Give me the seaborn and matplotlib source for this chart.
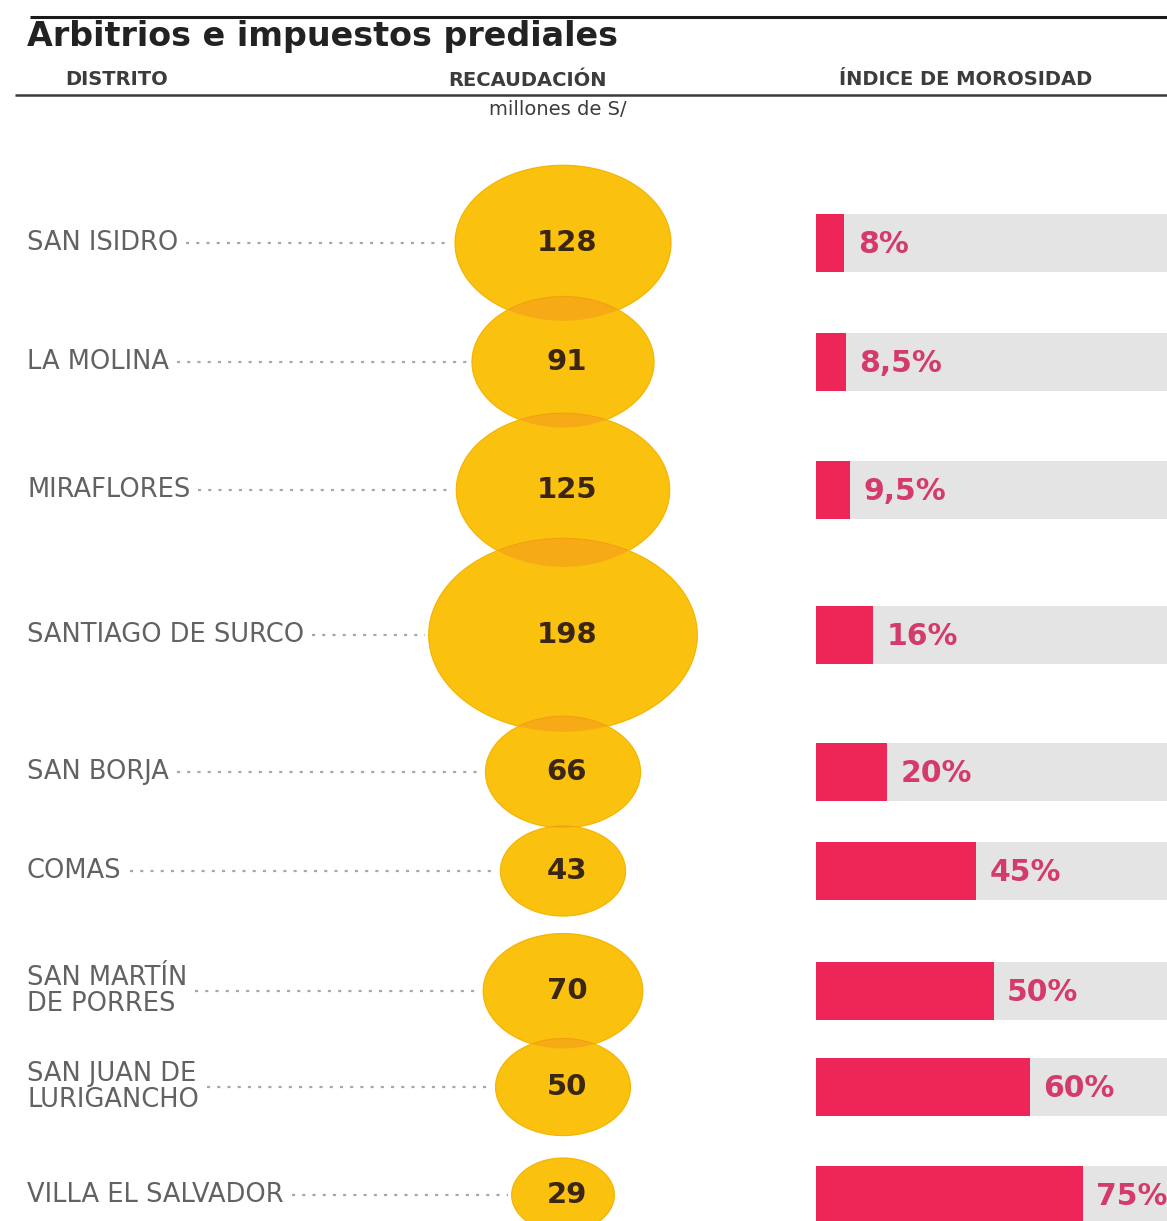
import numpy as np
import pandas as pd
import matplotlib
matplotlib.use("Agg")
import matplotlib.pyplot as plt
from matplotlib.path import Path
import seaborn as sns

# ---- data -------------------------------------------------------------
distritos = [
    "SAN ISIDRO",
    "LA MOLINA",
    "MIRAFLORES",
    "SANTIAGO DE SURCO",
    "SAN BORJA",
    "COMAS",
    "SAN MARTÍN\nDE PORRES",
    "SAN JUAN DE\nLURIGANCHO",
    "VILLA EL SALVADOR",
]
recaudacion = [128, 91, 125, 198, 66, 43, 70, 50, 29]        # millones de S/
morosidad = [8, 8.5, 9.5, 16, 20, 45, 50, 60, 75]             # %

# ---- layout (pixel grid of the canvas) --------------------------------
W, H, DPI = 1167, 1221, 100
row_y = [243, 362, 490, 635, 772, 871, 991, 1087, 1195]
bubble_x = 563
label_x = 27
bar_left, bar_span = 816, 356          # px where the 0-100 % scale lives
bar_height_px = 58
diam_px_per_sqrt = 19.1                # bubble width in px per sqrt(value)
ellipse_ratio = 0.72

sns.set_theme(style="white")
plt.rcParams["font.family"] = ["DejaVu Sans"]

fig = plt.figure(figsize=(W / DPI, H / DPI), dpi=DPI)
fig.patch.set_facecolor("white")
ax = fig.add_axes([0, 0, 1, 1])
ax.set_xlim(0, W)
ax.set_ylim(H, 0)
ax.axis("off")

df = pd.DataFrame({
    "distrito": distritos,
    "recaudacion": recaudacion,
    "morosidad": morosidad,
    "fila": row_y,
    "col": [bubble_x] * len(distritos),
})

# ---- bubbles: area proportional to revenue ----------------------------
t = np.linspace(0, 2 * np.pi, 120)
ellipse = Path(np.column_stack([np.cos(t), ellipse_ratio * np.sin(t)]), closed=True)
vmax = max(recaudacion)
pt_per_px = 72 / DPI
s_max = (diam_px_per_sqrt * pt_per_px) ** 2 * vmax

sns.scatterplot(data=df, x="col", y="fila", size="recaudacion",
                sizes=(0, s_max), size_norm=(0, vmax), marker=ellipse,
                color="#FFE304", edgecolor="#F6C000", linewidth=0.8,
                legend=False, ax=ax, zorder=2)
# translucent orange wash: darkens where neighbouring bubbles overlap
sns.scatterplot(data=df, x="col", y="fila", size="recaudacion",
                sizes=(0, s_max), size_norm=(0, vmax), marker=ellipse,
                color="#F07828", alpha=0.31, edgecolor="none", linewidth=0,
                legend=False, ax=ax, zorder=3)

for v, y in zip(recaudacion, row_y):
    ax.text(bubble_x + 4, y, f"{v}", ha="center", va="center",
            fontsize=21, fontweight="bold", color="#3A2612", zorder=5)

# ---- district labels and dotted leaders --------------------------------
labels = []
for name, y in zip(distritos, row_y):
    labels.append(ax.text(label_x, y, name, ha="left", va="center",
                          fontsize=18.5, color="#626262", linespacing=1.0))

fig.canvas.draw()
inv = ax.transData.inverted()
renderer = fig.canvas.get_renderer()
for txt, v, y in zip(labels, recaudacion, row_y):
    bb = txt.get_window_extent(renderer)
    x0 = inv.transform((bb.x1, 0))[0] + 8
    x1 = bubble_x - diam_px_per_sqrt * np.sqrt(v) / 2 - 4
    ax.plot([x0, x1], [y, y], linestyle=(0, (1.4, 3.2)), lw=1.6,
            color="#A8A8A8", zorder=1)

# ---- delinquency bars --------------------------------------------------
bx = fig.add_axes([bar_left / W, 0, bar_span / W, 1])
bar_w = bar_height_px / np.min(np.diff(sorted(row_y)))
sns.barplot(x=[100] * len(morosidad), y=row_y, orient="h", native_scale=True,
            color="#E4E4E4", saturation=1, width=bar_w, errorbar=None,
            linewidth=0, ax=bx)
sns.barplot(data=df, x="morosidad", y="fila", orient="h", native_scale=True,
            color="#EE2658", saturation=1, width=bar_w, errorbar=None,
            linewidth=0, ax=bx)
bx.set_xlim(0, 100)
bx.set_ylim(H, 0)
bx.axis("off")

for v, y in zip(morosidad, row_y):
    txt = f"{v:g}".replace(".", ",") + "%"
    bx.annotate(txt, (v, y), xytext=(9.5, -1), textcoords="offset points",
                ha="left", va="center", fontsize=21.5, fontweight="bold",
                color="#D43A6A")

# ---- header ------------------------------------------------------------
ax.plot([30, W], [17, 17], color="#1A1A1A", lw=2.2, solid_capstyle="butt")
ax.plot([15, W], [95, 95], color="#3A3A3A", lw=1.8, solid_capstyle="butt")
ax.text(27, 46, "Arbitrios e impuestos prediales", ha="left", va="baseline",
        fontsize=24, fontweight="bold", color="#222222")
hdr = dict(va="baseline", fontsize=14, fontweight="bold", color="#3C3C3C")
ax.text(117, 85, "DISTRITO", ha="center", **hdr)
ax.text(528, 86, "RECAUDACIÓN", ha="center", **hdr)
ax.text(966, 85, "ÍNDICE DE MOROSIDAD", ha="center", **hdr)
ax.text(558, 115, "millones de S/", ha="center", va="baseline", fontsize=14,
        color="#3C3C3C")

fig.savefig("out.png", dpi=DPI, facecolor="white")
